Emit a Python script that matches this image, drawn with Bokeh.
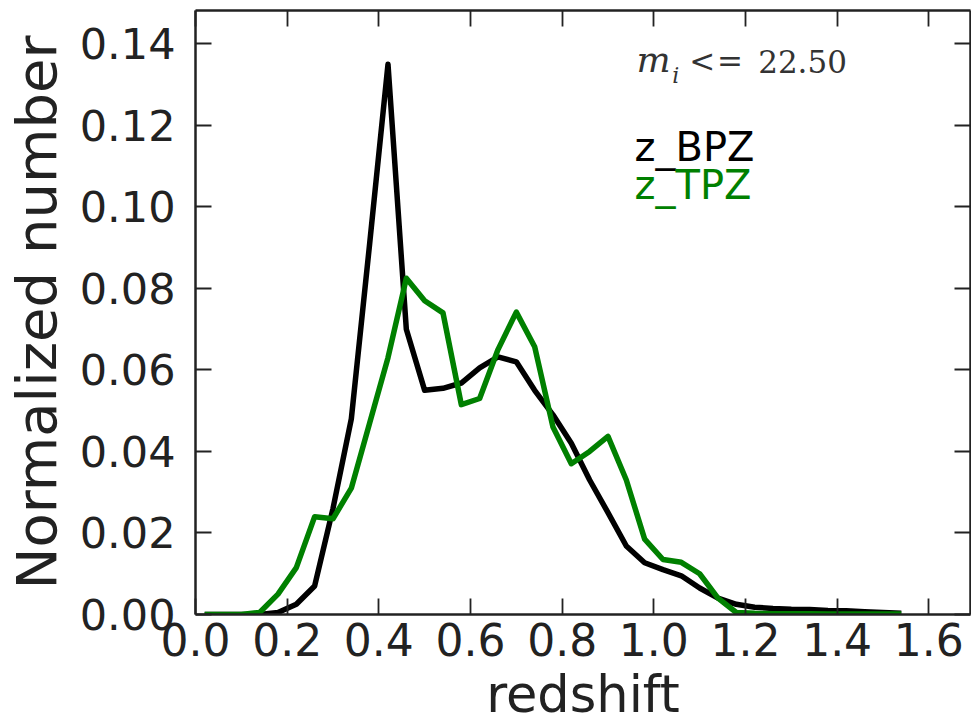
from bokeh.plotting import figure
from bokeh.models import LinearAxis, FixedTicker, PrintfTickFormatter, Range1d
from bokeh.core.properties import value
from bokeh.embed import file_html
from bokeh.resources import INLINE

# redshift bin centres
redshift = [0.02, 0.06, 0.10, 0.14, 0.18, 0.22, 0.26, 0.30, 0.34, 0.38,
            0.42, 0.46, 0.50, 0.54, 0.58, 0.62, 0.66, 0.70, 0.74, 0.78,
            0.82, 0.86, 0.90, 0.94, 0.98, 1.02, 1.06, 1.10, 1.14, 1.18,
            1.22, 1.26, 1.30, 1.34, 1.38, 1.42, 1.46, 1.50, 1.54]

z_bpz = [0.0, 0.0, 0.0, 0.0, 0.0005, 0.0025, 0.007, 0.026, 0.048, 0.091,
         0.135, 0.070, 0.055, 0.0555, 0.0568, 0.0605, 0.0632, 0.062, 0.055, 0.049,
         0.042, 0.033, 0.025, 0.0168, 0.0127, 0.011, 0.0095, 0.0065, 0.004, 0.0025,
         0.0018, 0.0015, 0.0013, 0.0012, 0.001, 0.0009, 0.0007, 0.0005, 0.0003]

z_tpz = [0.0, 0.0, 0.0, 0.0005, 0.005, 0.0115, 0.024, 0.0235, 0.031, 0.047,
         0.063, 0.0825, 0.077, 0.074, 0.0515, 0.053, 0.065, 0.0742, 0.0657, 0.046,
         0.037, 0.040, 0.0437, 0.033, 0.0185, 0.0135, 0.0128, 0.010, 0.004, 0.0005,
         0.0003, 0.0002, 0.0002, 0.0002, 0.0001, 0.0001, 0.0001, 0.0001, 0.0001]

x_ticks = [0.0, 0.2, 0.4, 0.6, 0.8, 1.0, 1.2, 1.4, 1.6]
y_ticks = [0.00, 0.02, 0.04, 0.06, 0.08, 0.10, 0.12, 0.14]

series_labels = ["z_BPZ", "z_TPZ"]
series_colors = ["#000000", "#008000"]
cut_label = "22.50"
x_title = "redshift"
y_title = "Normalized number"

FONT = "DejaVu Sans"
SERIF = "DejaVu Serif"
AX = "#222222"

p = figure(width=971, height=726, output_backend="svg", toolbar_location=None,
           x_range=Range1d(0, 1.691), y_range=Range1d(0, 0.1482),
           x_axis_label=x_title, y_axis_label=y_title,
           min_border_left=193, min_border_right=1, min_border_top=10,
           min_border_bottom=111, background_fill_color="white",
           border_fill_color="white", outline_line_color=None)

p.xgrid.visible = False
p.ygrid.visible = False

def style(ax, ticks, fmt, size, label_size):
    ax.ticker = FixedTicker(ticks=ticks)
    ax.formatter = PrintfTickFormatter(format=fmt)
    ax.major_tick_in = 16
    ax.major_tick_out = 0
    ax.minor_tick_in = 0
    ax.minor_tick_out = 0
    ax.major_tick_line_color = AX
    ax.major_tick_line_width = 1.8
    ax.axis_line_color = AX
    ax.axis_line_width = 2.5
    ax.major_label_text_font = FONT
    ax.major_label_text_font_size = size
    ax.major_label_text_color = AX
    ax.axis_label_text_font = FONT
    ax.axis_label_text_font_size = label_size
    ax.axis_label_text_font_style = "normal"
    ax.axis_label_text_color = AX

xb = p.below[0]
yl = p.left[0]
style(xb, x_ticks, "%.1f", "44px", "51px")
style(yl, y_ticks, "%.2f", "43px", "56px")
xb.major_label_standoff = 8
xb.axis_label_standoff = 6
yl.major_label_standoff = 20
yl.axis_label_standoff = 8

xt = LinearAxis()
style(xt, x_ticks, "%.1f", "0px", "0px")
xt.major_label_standoff = 0
xt.major_label_text_color = None
p.add_layout(xt, "above")

yr = LinearAxis()
style(yr, y_ticks, "%.2f", "0px", "0px")
yr.major_label_standoff = 0
yr.major_label_text_color = None
p.add_layout(yr, "right")

p.line(redshift, z_bpz, line_color=series_colors[0], line_width=5.5, line_join="round")
p.line(redshift, z_tpz, line_color=series_colors[1], line_width=5.5, line_join="round")

# magnitude-cut annotation
TXT = "#333333"
p.text(x=[0.962], y=[0.1361], text=["m"], text_font=value(SERIF),
       text_font_style="italic", text_font_size="36px", text_color=TXT,
       text_baseline="alphabetic", text_align="left")
p.text(x=[1.040], y=[0.1322], text=["i"], text_font=value(SERIF),
       text_font_style="italic", text_font_size="22px", text_color=TXT,
       text_baseline="alphabetic", text_align="left")
p.text(x=[1.0775, 1.138], y=[0.1358, 0.1358], text=["<", "="], text_font=value(SERIF),
       text_font_size="31px", text_color=TXT,
       text_baseline="alphabetic", text_align="left")
p.text(x=[1.2277], y=[0.1358], text=[cut_label], text_font=value(SERIF),
       text_font_size="31px", text_color=TXT,
       text_baseline="alphabetic", text_align="left")

# legend texts
p.text(x=[0.958, 0.958], y=[0.1146, 0.1055], text=series_labels,
       text_color=series_colors, text_font=value(FONT), text_font_size="40px",
       text_baseline="alphabetic", text_align="left")

open("out.html", "w").write(file_html(p, INLINE))
